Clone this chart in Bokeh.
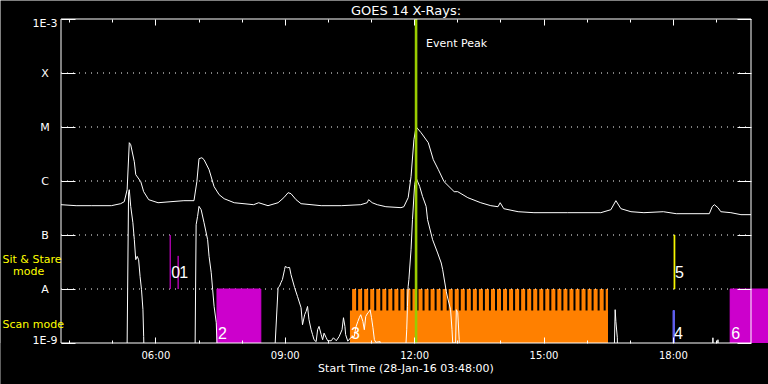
import math
from bokeh.plotting import figure
from bokeh.models import FixedTicker, LinearAxis, LogAxis, Label, Range1d, ColumnDataSource
from bokeh.core.properties import value
from bokeh.embed import file_html
from bokeh.resources import INLINE

# ---------------- data ----------------
title_text = "GOES 14 X-Rays:"
xlabel_text = "Start Time (28-Jan-16 03:48:00)"
plot_start = "03:48"
plot_end = "19:48"

x_tick_hours = [6, 9, 12, 15, 18]
x_tick_labels = ["06:00", "09:00", "12:00", "15:00", "18:00"]
x_minor_hours = [4, 5, 7, 8, 10, 11, 13, 14, 16, 17, 19]

y_tick_values = [1e-9, 1e-8, 1e-7, 1e-6, 1e-5, 1e-4, 1e-3]
y_tick_labels = ["1E-9", "A", "B", "C", "M", "X", "1E-3"]
grid_levels = [1e-8, 1e-7, 1e-6, 1e-5, 1e-4]

# GOES long channel (1-8 A)
long_time = ["03:48", "04:09", "04:30", "04:58", "05:11", "05:16", "05:20", "05:23", "05:25", "05:30",
             "05:32", "05:39", "05:43", "05:50", "06:03", "06:21", "06:39", "06:53", "06:57", "07:00",
             "07:04", "07:07", "07:14", "07:21", "07:28", "07:35", "07:49", "08:16", "08:23", "08:36",
             "08:50", "08:58", "09:04", "09:08", "09:15", "09:22", "09:50", "10:18", "10:45", "10:54",
             "10:56", "11:01", "11:08", "11:20", "11:41", "11:45", "11:51", "11:55", "11:59", "12:02",
             "12:09", "12:19", "12:26", "12:33", "12:41", "12:55", "13:00", "13:14", "13:32", "13:46",
             "13:56", "13:59", "14:04", "14:24", "14:46", "15:33", "16:19", "16:33", "16:40", "16:47",
             "17:01", "17:19", "17:46", "18:04", "18:50", "18:54", "18:57", "19:02", "19:06", "19:20",
             "19:34", "19:48"]
long_flux = [3.64e-7, 3.49e-7, 3.49e-7, 3.49e-7, 3.80e-7, 4.14e-7, 6.90e-7, 5.12e-6, 4.70e-6, 2.27e-6,
             1.31e-6, 9.7e-7, 6.34e-7, 4.51e-7, 3.96e-7, 4.14e-7, 4.32e-7, 4.32e-7, 9.7e-7, 2.59e-6,
             2.70e-6, 2.48e-6, 1.62e-6, 7.85e-7, 5.58e-7, 4.70e-7, 3.96e-7, 3.64e-7, 3.96e-7, 3.49e-7,
             3.96e-7, 4.91e-7, 6.08e-7, 5.82e-7, 4.51e-7, 3.80e-7, 3.49e-7, 3.49e-7, 3.64e-7, 3.96e-7,
             4.51e-7, 3.96e-7, 3.64e-7, 3.34e-7, 3.21e-7, 3.34e-7, 4.91e-7, 1.20e-6, 5.82e-6, 1.01e-5,
             7.83e-6, 5.12e-6, 2.48e-6, 1.62e-6, 9.7e-7, 6.34e-7, 6.34e-7, 4.91e-7, 3.96e-7, 3.49e-7,
             3.34e-7, 3.96e-7, 3.07e-7, 2.70e-7, 2.59e-7, 2.59e-7, 2.59e-7, 2.94e-7, 4.32e-7, 3.07e-7,
             2.70e-7, 2.59e-7, 2.70e-7, 2.48e-7, 2.48e-7, 3.34e-7, 3.64e-7, 3.21e-7, 2.70e-7, 2.59e-7,
             2.38e-7, 2.38e-7]

# GOES short channel (0.5-4 A); None separates pieces, 1e-10 = below the plot floor
short_time = ["05:19", "05:20", "05:22", "05:23", "05:25", "05:28", "05:30", "05:32", "05:34", "05:36",
              "05:38", "05:40", "05:42", "05:43", "05:45", None,
              "06:54", "06:56", "06:58", "07:00", "07:03", "07:07", "07:12", "07:14", "07:17", "07:19",
              "07:21", "07:24", "07:25", "07:26", None,
              "08:45", "08:46", "08:50", "08:52", "08:54", "08:56", "08:59", "09:00", "09:03", "09:06",
              "09:08", "09:13", "09:17", "09:22", "09:24", "09:27", "09:29", "09:31", "09:33", "09:36",
              "09:38", "09:40", "09:43", "09:45", "09:47", "09:50", "09:52", "09:54", "09:57", "09:59",
              "10:04", "10:07", "10:11", "10:15", "10:19", "10:21", "10:23", "10:24", "10:27", "10:31",
              "10:36", "10:38", "10:41", "10:43", "10:45", "10:48", "10:50", "10:52", "10:55", "10:57",
              "10:58", "11:00", "11:02", "11:04", "11:06", "11:12", "11:13", None,
              "11:47", "11:48", "11:49", "11:50", "11:51", "11:52", "11:55", "11:57", "12:00", "12:02",
              "12:07", "12:11", "12:16", "12:18", "12:25", "12:32", "12:37", "12:39", "12:44", "12:46",
              "12:50", "12:52", "12:53", "12:57", "12:58", "13:00", "13:02", "13:03", None,
              "16:37", "16:38", "16:39", "16:40", "16:42", "16:43", None,
              "18:54", "18:55", "18:56", None,
              "19:01", "19:02", "19:03"]
short_flux = [1e-10, 1.0e-9, 6.0e-7, 6.9e-7, 3.39e-7, 1.69e-7, 8.18e-8, 3.49e-8, 4.02e-8, 3.49e-8,
              1.71e-8, 9.7e-9, 4.14e-9, 1.32e-9, 1e-10, None,
              1e-10, 1.55e-7, 2.21e-7, 3.39e-7, 2.94e-7, 1.69e-7, 8.18e-8, 4.02e-8, 2.0e-8, 9.7e-9,
              4.76e-9, 2.38e-9, 1.0e-9, 1e-10, None,
              1e-10, 1.0e-9, 1.06e-8, 1.12e-8, 1.31e-8, 1.49e-8, 2.28e-8, 2.62e-8, 2.48e-8, 2.51e-8,
              1.84e-8, 1.06e-8, 7.30e-9, 4.51e-9, 2.18e-9, 3.34e-9, 3.85e-9, 4.76e-9, 2.70e-9, 1.76e-9,
              1.43e-9, 1.15e-9, 1.06e-9, 1.76e-9, 2.03e-9, 1.43e-9, 1.15e-9, 1.52e-9, 1.25e-9, 1.10e-9,
              1.10e-9, 1.25e-9, 1.10e-9, 1.32e-9, 1.76e-9, 2.94e-9, 2.03e-9, 1.43e-9, 1.08e-9, 1.25e-9,
              1.32e-9, 1.92e-9, 2.51e-9, 2.94e-9, 3.34e-9, 2.51e-9, 1.76e-9, 3.11e-9, 3.64e-9, 3.85e-9,
              4.14e-9, 2.94e-9, 1.92e-9, 1.15e-9, 1.03e-9, 1.06e-9, 1e-10, None,
              1e-10, 1.0e-9, 1.76e-9, 4.7e-9, 1.12e-8, 1.49e-8, 5.34e-8, 1.92e-7, 8.53e-7, 1.15e-6,
              7.94e-7, 5.19e-7, 3.39e-7, 1.92e-7, 8.18e-8, 4.65e-8, 3.03e-8, 2.28e-8, 9.03e-9, 6.81e-9,
              4.14e-9, 1.76e-9, 1.0e-9, 1.0e-9, 4.14e-9, 3.64e-9, 1.15e-9, 1e-10, None,
              1e-10, 1.0e-9, 4.14e-9, 2.51e-9, 1.25e-9, 1e-10, None,
              1e-10, 1.25e-9, 1e-10, None,
              1e-10, 1.15e-9, 1e-10]

# Observations (Sit & Stare between A and B, Scan below A)
obs_id = ["0", "1", "2", "3", "4", "5", "6"]
obs_start = ["06:20", "06:31", "07:25", "10:30", "17:59:30", "18:01", "19:19"]
obs_end = ["06:20", "06:31", "08:26", "16:29", "18:01:30", "18:02", "20:15"]
obs_mode = ["sit", "sit", "scan", "scan", "scan", "sit", "scan"]
obs_top = [1e-7, 4.1e-8, 1e-8, 4e-9, 4e-9, 1e-7, 1e-8]
obs_color = ["#B000B0", "#B000B0", "#CC00CC", "#FF8000", "#6060F0", "#FFFF00", "#CC00CC"]

# Scan 3 individual raster steps
raster_start = ["10:33:00", "10:41:24", "10:49:48", "10:58:12", "11:06:36",
                "11:15:00", "11:23:24", "11:31:48", "11:40:12", "11:48:36",
                "11:57:00", "12:05:24", "12:13:48", "12:22:12", "12:30:36",
                "12:39:00", "12:47:24", "12:55:48", "13:04:12", "13:12:36",
                "13:21:00", "13:29:24", "13:37:48", "13:46:12", "13:54:36",
                "14:03:00", "14:11:24", "14:19:48", "14:28:12", "14:36:36",
                "14:45:00", "14:53:24", "15:01:48", "15:10:12", "15:18:36",
                "15:27:00", "15:35:24", "15:43:48", "15:52:12", "16:00:36",
                "16:09:00", "16:17:24", "16:25:48"]
raster_minutes = 5.6
raster_top = 1e-8

event_peak = "12:02"
event_label = "Event Peak"
mode_labels = ["Sit & Stare", "mode", "Scan mode"]


# ---------------- helpers ----------------
def hrs(s):
    parts = [int(v) for v in s.split(":")]
    h = parts[0] + parts[1] / 60.0
    if len(parts) > 2:
        h += parts[2] / 3600.0
    return h


W, H = 768, 384
t_start = hrs(plot_start)
t_end = hrs(plot_end)
hpp = (t_end - t_start) / 690.0            # hours per pixel (plot box is 690 px wide)
x_start = t_start - 60.5 * hpp             # frame covers the whole canvas
x_end = x_start + W * hpp
dpp = 6.0 / 324.0                          # decades per pixel (plot box is 324 px high)
y_end = 10 ** (-3 + 18.5 * dpp)
y_start = 10 ** (-3 - (H - 18.5) * dpp)


def px_x(px):
    return x_start + px * hpp


def px_y(py):
    return 10 ** (-3 - (py - 18.5) * dpp)


FONT = "DejaVu Sans"

p = figure(width=W, height=H, x_range=Range1d(x_start, x_end), y_range=Range1d(y_start, y_end),
           y_axis_type="log", x_axis_location=None, y_axis_location=None,
           toolbar_location=None, output_backend="svg",
           background_fill_color="black", border_fill_color="black", outline_line_color=None,
           min_border=0, min_border_left=0, min_border_right=0, min_border_top=0, min_border_bottom=0)
p.grid.visible = False


def y_axis(loc):
    return LogAxis(ticker=FixedTicker(ticks=y_tick_values, minor_ticks=[]), fixed_location=loc,
                   axis_line_color=None, major_tick_line_color="white", major_tick_in=14, major_tick_out=0,
                   minor_tick_line_color=None, major_label_text_color=None)


def x_axis(loc, show_labels):
    ax = LinearAxis(ticker=FixedTicker(ticks=x_tick_hours, minor_ticks=x_minor_hours), fixed_location=loc,
                    axis_line_color=None, major_tick_line_color="white", minor_tick_line_color="white",
                    major_tick_in=6, major_tick_out=0, minor_tick_in=3, minor_tick_out=0,
                    major_label_text_color=None)
    if show_labels:
        ax.major_label_overrides = dict(zip(x_tick_hours, x_tick_labels))
        ax.major_label_text_color = "white"
        ax.major_label_text_font = FONT
        ax.major_label_text_font_size = "10px"
        ax.major_label_standoff = 7
    return ax


p.add_layout(y_axis(t_start), "left")
p.add_layout(y_axis(t_end), "right")
p.add_layout(x_axis(1e-9, True), "below")
p.add_layout(x_axis(1e-3, False), "above")

# scan 3 (orange): base block and raster steps
i3 = obs_id.index("3")
p.quad(left=[hrs(obs_start[i3])], right=[hrs(obs_end[i3])], bottom=[1e-9], top=[obs_top[i3]],
       fill_color=obs_color[i3], line_color=None)
r_left = [hrs(s) for s in raster_start]
r_right = [min(hrs(s) + raster_minutes / 60.0, hrs(obs_end[i3])) for s in raster_start]
p.quad(left=r_left, right=r_right, bottom=[1e-9] * len(r_left), top=[raster_top] * len(r_left),
       fill_color=obs_color[i3], line_color=None)

# dotted grid
p.segment(x0=[t_start] * len(grid_levels), x1=[t_end] * len(grid_levels), y0=grid_levels, y1=grid_levels,
          line_color="white", line_width=1, line_dash="1 5")

# other observations
others = [i for i in range(len(obs_id)) if i != i3]
p.quad(left=[hrs(obs_start[i]) for i in others], right=[hrs(obs_end[i]) for i in others],
       bottom=[1e-8 if obs_mode[i] == "sit" else 1e-9 for i in others],
       top=[obs_top[i] for i in others],
       fill_color=[obs_color[i] for i in others], line_color=[obs_color[i] for i in others], line_width=1)

# GOES curves (anything below 1E-9 is hidden under the floor)
nan = float("nan")
p.line([hrs(t) for t in long_time], long_flux, line_color="white", line_width=1)
p.line([hrs(t) if t else nan for t in short_time], [f if f is not None else nan for f in short_flux],
       line_color="white", line_width=1)
# mask everything below the 1E-9 floor
p.quad(left=[x_start], right=[x_end], bottom=[y_start], top=[1e-9], fill_color="black", line_color=None)
# the right-hand scan box continues past the plot edge
i6 = obs_id.index("6")
p.quad(left=[hrs(obs_start[i6])], right=[hrs(obs_end[i6])], bottom=[1e-9], top=[obs_top[i6]],
       fill_color=obs_color[i6], line_color=None)

# event peak
ev = hrs(event_peak)
p.segment(x0=[ev], x1=[ev], y0=[1e-9], y1=[1e-3], line_color="#99CC00", line_width=2.6)

# plot box
p.segment(x0=[t_start, t_start, t_start, t_end], y0=[1e-9, 1e-3, 1e-9, 1e-9],
          x1=[t_end, t_end, t_start, t_end], y1=[1e-9, 1e-3, 1e-3, 1e-3],
          line_color="white", line_width=1)

# y tick labels (centred in the left margin)
ylab = ColumnDataSource(dict(x=[t_start] * len(y_tick_values), y=y_tick_values, text=y_tick_labels,
                             yo=[-3, 0, 0, 0, 0, 0, 4]))
p.text(x="x", y="y", text="text", source=ylab, x_offset=-16, y_offset="yo", text_color="white",
       text_font=value(FONT), text_font_size="11px", text_align="center", text_baseline="middle")

# observation numbers
lab = ColumnDataSource(dict(
    x=[hrs(s) for s in obs_start],
    y=[1e-8 if m == "sit" else 1e-9 for m in obs_mode],
    yo=[-17 if m == "sit" else -10 for m in obs_mode],
    text=obs_id))
p.text(x="x", y="y", text="text", source=lab, x_offset=1, y_offset="yo", text_color="white",
       text_font=value("Liberation Sans"), text_font_size="16px", text_baseline="middle", text_align="left")

# annotations
p.add_layout(Label(x=(t_start + t_end) / 2, y=px_y(9.5), text=title_text, text_color="white",
                   text_font=FONT, text_font_size="13px", text_align="center", text_baseline="middle"))
p.add_layout(Label(x=(t_start + t_end) / 2, y=px_y(368), text=xlabel_text, text_color="white",
                   text_font=FONT, text_font_size="11px", text_align="center", text_baseline="middle"))
p.add_layout(Label(x=ev, y=px_y(43), x_offset=10, text=event_label, text_color="white",
                   text_font=FONT, text_font_size="11px", text_align="left", text_baseline="middle"))
p.add_layout(Label(x=px_x(2), y=px_y(258.5), text=mode_labels[0], text_color="#FFFF00",
                   text_font=FONT, text_font_size="11px", text_align="left", text_baseline="middle"))
p.add_layout(Label(x=px_x(12.5), y=px_y(271), text=mode_labels[1], text_color="#FFFF00",
                   text_font=FONT, text_font_size="11px", text_align="left", text_baseline="middle"))
p.add_layout(Label(x=px_x(2), y=px_y(324), text=mode_labels[2], text_color="#FFFF00",
                   text_font=FONT, text_font_size="11px", text_align="left", text_baseline="middle"))

open("out.html", "w").write(file_html(p, INLINE))
